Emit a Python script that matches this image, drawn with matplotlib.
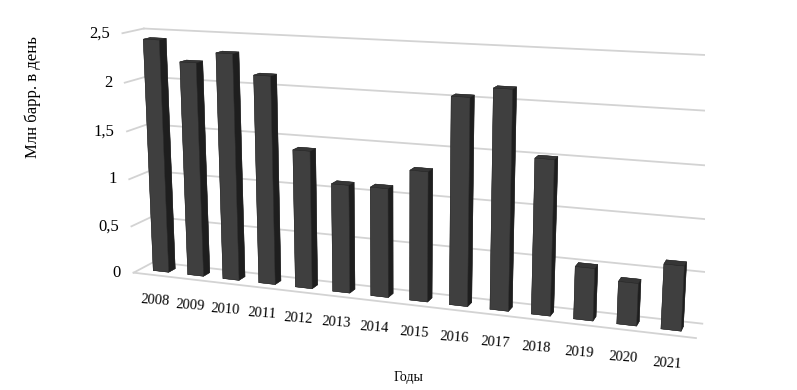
import numpy as np
import matplotlib.pyplot as plt
from mpl_toolkits.mplot3d import proj3d

years = ['2008', '2009', '2010', '2011', '2012', '2013', '2014',
         '2015', '2016', '2017', '2018', '2019', '2020', '2021']
values = [2.43, 2.22, 2.33, 2.13, 1.41, 1.10, 1.10,
          1.30, 2.04, 2.14, 1.51, 0.51, 0.41, 0.62]
zticks = [0, 0.5, 1, 1.5, 2, 2.5]
zlabels = ['0', '0,5', '1', '1,5', '2', '2,5']

plt.rcParams['font.family'] = ['Liberation Serif', 'DejaVu Serif']

fig = plt.figure(figsize=(7.97, 3.9), dpi=100)
ax = fig.add_axes([-0.107, -0.265, 1.2, 1.6], projection='3d')
ax.set_proj_type('persp', focal_length=0.4)
ax.view_init(elev=13, azim=-70)
ax.computed_zorder = False

n = len(years)
x = np.arange(n)
bw = 0.45
bd = 0.33
x0, x1 = -0.6, n - 0.4
yf, yb = -0.5, 0.5
grid = '#d3d3d3'

# back wall + left wall gridlines
for t in zticks:
    ax.plot([x0, x1], [yb, yb], [t, t], color=grid, lw=1.3, zorder=1)
    ax.plot([x0, x0], [yf, yb], [t, t], color=grid, lw=1.3, zorder=1)
# floor front edge
ax.plot([x0, x1], [yf, yf], [0, 0], color=grid, lw=1.3, zorder=1)

ax.bar3d(x - bw / 2, -bd / 2, np.zeros(n), bw, bd, values,
         color='#474747', shade=True, edgecolor='#2a2a2a', linewidth=0.3,
         zorder=2)

ax.set_xlim(x0, x1)
ax.set_ylim(yf, yb)
ax.set_zlim(0, 2.5)
ax.set_box_aspect((14, 1.0, 6.05), zoom=1.02)
ax.set_axis_off()

# labels placed at projected 3D positions
fig.canvas.draw()
M = ax.get_proj()
lx, ly, _ = proj3d.proj_transform(x, np.full(n, yf), np.full(n, -0.2), M)
for px, py, lab in zip(lx, ly, years):
    ax.text2D(px, py, lab, transform=ax.transData, ha='center', va='top',
              fontsize=10.5, rotation=-4)
tx, ty, _ = proj3d.proj_transform(np.full(len(zticks), x0), np.full(len(zticks), yf),
                                  np.array(zticks, float), M)
for px, py, lab in zip(tx, ty, zlabels):
    ax.annotate(lab, (px, py), xycoords='data', xytext=(-9, 0),
                textcoords='offset points', ha='right', va='center', fontsize=12)

fig.text(0.041, 0.751, 'Млн барр. в день', rotation=90, ha='center',
         va='center', fontsize=12)
fig.text(0.512, 0.033, 'Годы', ha='center', va='center', fontsize=10)

fig.savefig('out.png', dpi=100)
